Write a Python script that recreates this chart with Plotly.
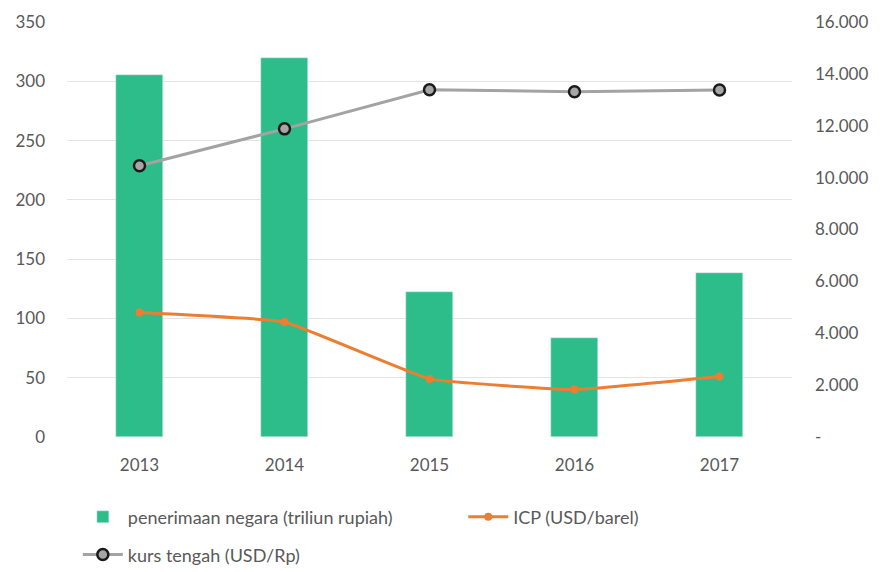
import plotly.graph_objects as go

years = ["2013", "2014", "2015", "2016", "2017"]
penerimaan = [305, 320, 122, 83.5, 138]
icp = [105, 97, 49, 40, 51]
kurs = [10460, 11880, 13390, 13310, 13380]

right_vals = [0, 2000, 4000, 6000, 8000, 10000, 12000, 14000, 16000]
right_text = ["-", "2.000", "4.000", "6.000", "8.000", "10.000", "12.000", "14.000", "16.000"]

font_family = "Lato, Open Sans, sans-serif"
tick_color = "#595959"

fig = go.Figure()
fig.add_trace(go.Bar(
    x=years, y=penerimaan, name="penerimaan negara (triliun rupiah)",
    marker_color="#2dbd8b", width=0.32, legend="legend",
))
fig.add_trace(go.Scatter(
    x=years, y=icp, name="ICP (USD/barel)", mode="lines+markers",
    line=dict(color="#ed7d31", width=3, shape="spline", smoothing=0.3),
    marker=dict(color="#ed7d31", size=8), legend="legend2",
))
fig.add_trace(go.Scatter(
    x=years, y=kurs, name="kurs tengah (USD/Rp)", mode="lines+markers", yaxis="y2",
    line=dict(color="#a3a3a3", width=3),
    marker=dict(color="#a6a6a6", size=11, line=dict(color="#1a1a1a", width=2.5)),
    legend="legend3",
))

legend_style = dict(orientation="h", xref="container", yref="container",
                    xanchor="left", yanchor="middle", itemwidth=40,
                    font=dict(size=18, color=tick_color))

fig.update_layout(
    width=884, height=572,
    showlegend=True,
    margin=dict(l=59, r=100, t=14, b=143),
    plot_bgcolor="white", paper_bgcolor="white",
    font=dict(family=font_family, size=17, color=tick_color),
    bargap=0,
    xaxis=dict(showgrid=False, showline=False, ticks="", ticklabelstandoff=16,
               tickfont=dict(size=17, color=tick_color), automargin=False),
    yaxis=dict(range=[0, 350], tickvals=[0, 50, 100, 150, 200, 250, 300, 350],
               gridcolor="#e4e4e4", gridwidth=1.2, zeroline=False, showline=False,
               ticklabelstandoff=21, tickfont=dict(size=17, color=tick_color),
               automargin=False),
    yaxis2=dict(range=[0, 16000], overlaying="y", side="right",
                tickvals=right_vals, ticktext=right_text, showgrid=False,
                zeroline=False, showline=False, ticklabelstandoff=22,
                tickfont=dict(size=17, color=tick_color), automargin=False),
    legend=dict(x=0.079, y=0.11, **legend_style),
    legend2=dict(x=0.515, y=0.11, **legend_style),
    legend3=dict(x=0.079, y=0.044, **legend_style),
)

fig.write_html("out.html")
